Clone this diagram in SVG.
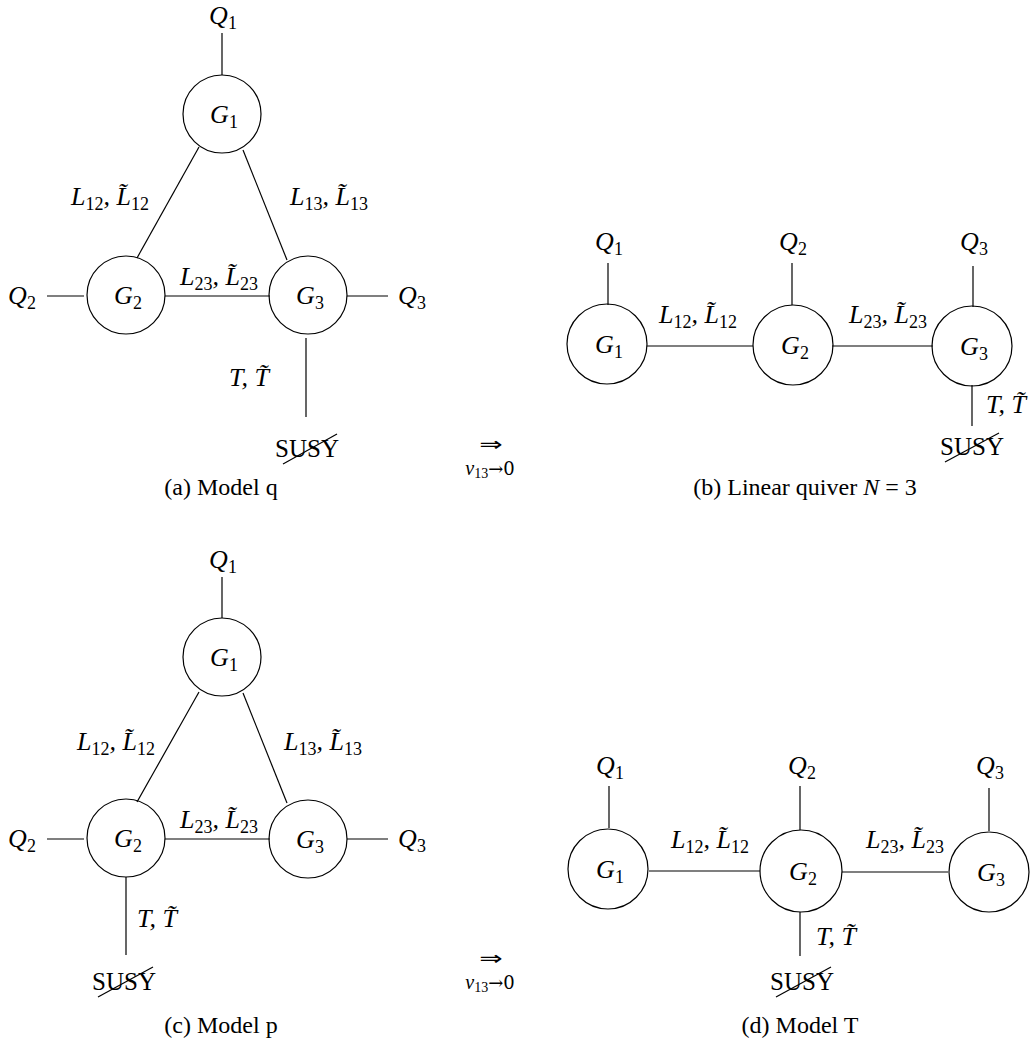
<svg xmlns="http://www.w3.org/2000/svg" width="1032" height="1051" viewBox="0 0 1032 1051" font-family="'Liberation Serif', 'Times New Roman', serif">
<style>
.n{fill:none;stroke:#000;stroke-width:1.2}
.e{stroke:#000;stroke-width:1.2;fill:none}
text{font-family:'Liberation Serif','Times New Roman',serif;fill:#000}
.m{font-style:italic;font-size:26px;text-anchor:middle}
.s{font-style:normal;font-size:18px}
.r{font-size:25px;text-anchor:middle}
.c{font-size:24px;text-anchor:middle}
.a{font-family:'DejaVu Sans',sans-serif;font-size:20px;text-anchor:middle}
.v{font-style:italic;font-size:20px;text-anchor:middle}
.vs{font-style:normal;font-size:14px}
.vr{font-style:normal;font-family:'DejaVu Serif',serif;font-size:18px}
</style>
<rect width="1032" height="1051" fill="#fff"/>

<!-- Panel (a) -->
<g id="a-connectors">
<line class="e" x1="222" y1="33" x2="222" y2="75"/>
<line class="e" x1="199" y1="147" x2="137" y2="258"/>
<line class="e" x1="243" y1="150" x2="287" y2="260"/>
<line class="e" x1="165" y1="296" x2="270" y2="296"/>
<line class="e" x1="47" y1="296" x2="84" y2="296"/>
<line class="e" x1="347" y1="296" x2="388" y2="296"/>
<line class="e" x1="306" y1="338" x2="306" y2="417"/>
</g>
<g id="a-G1"><circle class="n" cx="222" cy="114" r="39"/><text class="m" x="224" y="123">G<tspan class="s" dy="5">1</tspan></text></g>
<g id="a-G2"><circle class="n" cx="126" cy="295" r="39"/><text class="m" x="128" y="304">G<tspan class="s" dy="5">2</tspan></text></g>
<g id="a-G3"><circle class="n" cx="308" cy="295" r="39"/><text class="m" x="310" y="304">G<tspan class="s" dy="5">3</tspan></text></g>
<g id="a-Q1"><text class="m" x="223" y="24">Q<tspan class="s" dy="5">1</tspan></text></g>
<g id="a-Q2"><text class="m" x="22" y="304">Q<tspan class="s" dy="5">2</tspan></text></g>
<g id="a-Q3"><text class="m" x="412" y="304">Q<tspan class="s" dy="5">3</tspan></text></g>
<g id="a-labels">
<text class="m" x="110" y="205">L<tspan class="s" dy="5">12</tspan><tspan dy="-5">, L&#x303;</tspan><tspan class="s" dy="5">12</tspan></text>
<text class="m" x="329" y="205">L<tspan class="s" dy="5">13</tspan><tspan dy="-5">, L&#x303;</tspan><tspan class="s" dy="5">13</tspan></text>
<text class="m" x="219" y="285">L<tspan class="s" dy="5">23</tspan><tspan dy="-5">, L&#x303;</tspan><tspan class="s" dy="5">23</tspan></text>
<text class="m" x="249" y="386">T, T&#x303;</text>
</g>
<g id="a-SUSY"><text class="r" x="307" y="457">SUSY</text><line class="e" x1="283" y1="464" x2="337" y2="434"/></g>
<text class="c" x="221" y="495">(a)  Model q</text>

<!-- arrow 1 -->
<g id="arrow1">
<text class="a" transform="translate(491,451) scale(1.4,1)">⇒</text>
<text class="v" x="490" y="475">v<tspan class="vs" dy="3">13</tspan><tspan class="vr" dy="-3">→0</tspan></text>
</g>

<!-- Panel (b) -->
<g id="b-connectors">
<line class="e" x1="608" y1="263" x2="608" y2="305"/>
<line class="e" x1="792" y1="263" x2="792" y2="305"/>
<line class="e" x1="973" y1="266" x2="973" y2="307"/>
<line class="e" x1="647" y1="346" x2="753" y2="346"/>
<line class="e" x1="832" y1="346" x2="933" y2="346"/>
<line class="e" x1="972" y1="385" x2="972" y2="426"/>
</g>
<g id="b-G1"><circle class="n" cx="607" cy="344" r="40"/><text class="m" x="609" y="353">G<tspan class="s" dy="5">1</tspan></text></g>
<g id="b-G2"><circle class="n" cx="793" cy="345" r="40"/><text class="m" x="795" y="354">G<tspan class="s" dy="5">2</tspan></text></g>
<g id="b-G3"><circle class="n" cx="972" cy="346" r="40"/><text class="m" x="974" y="355">G<tspan class="s" dy="5">3</tspan></text></g>
<g id="b-Q1"><text class="m" x="609" y="250">Q<tspan class="s" dy="5">1</tspan></text></g>
<g id="b-Q2"><text class="m" x="793" y="250">Q<tspan class="s" dy="5">2</tspan></text></g>
<g id="b-Q3"><text class="m" x="974" y="250">Q<tspan class="s" dy="5">3</tspan></text></g>
<g id="b-labels">
<text class="m" x="698" y="323">L<tspan class="s" dy="5">12</tspan><tspan dy="-5">, L&#x303;</tspan><tspan class="s" dy="5">12</tspan></text>
<text class="m" x="888" y="323">L<tspan class="s" dy="5">23</tspan><tspan dy="-5">, L&#x303;</tspan><tspan class="s" dy="5">23</tspan></text>
<text class="m" x="1006" y="413">T, T&#x303;</text>
</g>
<g id="b-SUSY"><text class="r" x="972" y="455">SUSY</text><line class="e" x1="945" y1="462" x2="999" y2="433"/></g>
<text class="c" x="805" y="495">(b)  Linear quiver <tspan font-style="italic">N</tspan> = 3</text>

<!-- Panel (c) -->
<g id="c-connectors">
<line class="e" x1="222" y1="577" x2="222" y2="618"/>
<line class="e" x1="199" y1="692" x2="137" y2="802"/>
<line class="e" x1="243" y1="693" x2="287" y2="803"/>
<line class="e" x1="165" y1="839" x2="270" y2="839"/>
<line class="e" x1="47" y1="839" x2="84" y2="839"/>
<line class="e" x1="347" y1="839" x2="388" y2="839"/>
<line class="e" x1="126" y1="877" x2="126" y2="955"/>
</g>
<g id="c-G1"><circle class="n" cx="222" cy="657" r="39"/><text class="m" x="224" y="666">G<tspan class="s" dy="5">1</tspan></text></g>
<g id="c-G2"><circle class="n" cx="126" cy="838" r="39"/><text class="m" x="128" y="847">G<tspan class="s" dy="5">2</tspan></text></g>
<g id="c-G3"><circle class="n" cx="308" cy="839" r="39"/><text class="m" x="310" y="848">G<tspan class="s" dy="5">3</tspan></text></g>
<g id="c-Q1"><text class="m" x="223" y="568">Q<tspan class="s" dy="5">1</tspan></text></g>
<g id="c-Q2"><text class="m" x="22" y="847">Q<tspan class="s" dy="5">2</tspan></text></g>
<g id="c-Q3"><text class="m" x="412" y="847">Q<tspan class="s" dy="5">3</tspan></text></g>
<g id="c-labels">
<text class="m" x="116" y="750">L<tspan class="s" dy="5">12</tspan><tspan dy="-5">, L&#x303;</tspan><tspan class="s" dy="5">12</tspan></text>
<text class="m" x="323" y="750">L<tspan class="s" dy="5">13</tspan><tspan dy="-5">, L&#x303;</tspan><tspan class="s" dy="5">13</tspan></text>
<text class="m" x="219" y="828">L<tspan class="s" dy="5">23</tspan><tspan dy="-5">, L&#x303;</tspan><tspan class="s" dy="5">23</tspan></text>
<text class="m" x="157" y="927">T, T&#x303;</text>
</g>
<g id="c-SUSY"><text class="r" x="124" y="990">SUSY</text><line class="e" x1="98" y1="997" x2="153" y2="967"/></g>
<text class="c" x="221" y="1033">(c)  Model p</text>

<!-- arrow 2 -->
<g id="arrow2">
<text class="a" transform="translate(491,965) scale(1.4,1)">⇒</text>
<text class="v" x="490" y="989">v<tspan class="vs" dy="3">13</tspan><tspan class="vr" dy="-3">→0</tspan></text>
</g>

<!-- Panel (d) -->
<g id="d-connectors">
<line class="e" x1="609" y1="786" x2="609" y2="828"/>
<line class="e" x1="800" y1="786" x2="800" y2="830"/>
<line class="e" x1="989" y1="788" x2="989" y2="831"/>
<line class="e" x1="649" y1="871" x2="760" y2="871"/>
<line class="e" x1="842" y1="872" x2="948" y2="872"/>
<line class="e" x1="800" y1="912" x2="800" y2="956"/>
</g>
<g id="d-G1"><circle class="n" cx="608" cy="869" r="40"/><text class="m" x="610" y="878">G<tspan class="s" dy="5">1</tspan></text></g>
<g id="d-G2"><circle class="n" cx="801" cy="871" r="41"/><text class="m" x="803" y="880">G<tspan class="s" dy="5">2</tspan></text></g>
<g id="d-G3"><circle class="n" cx="989" cy="872" r="40"/><text class="m" x="991" y="881">G<tspan class="s" dy="5">3</tspan></text></g>
<g id="d-Q1"><text class="m" x="610" y="774">Q<tspan class="s" dy="5">1</tspan></text></g>
<g id="d-Q2"><text class="m" x="802" y="774">Q<tspan class="s" dy="5">2</tspan></text></g>
<g id="d-Q3"><text class="m" x="990" y="774">Q<tspan class="s" dy="5">3</tspan></text></g>
<g id="d-labels">
<text class="m" x="710" y="848">L<tspan class="s" dy="5">12</tspan><tspan dy="-5">, L&#x303;</tspan><tspan class="s" dy="5">12</tspan></text>
<text class="m" x="905" y="848">L<tspan class="s" dy="5">23</tspan><tspan dy="-5">, L&#x303;</tspan><tspan class="s" dy="5">23</tspan></text>
<text class="m" x="836" y="945">T, T&#x303;</text>
</g>
<g id="d-SUSY"><text class="r" x="802" y="990">SUSY</text><line class="e" x1="776" y1="997" x2="831" y2="967"/></g>
<text class="c" x="800" y="1033">(d)  Model T</text>
</svg>
